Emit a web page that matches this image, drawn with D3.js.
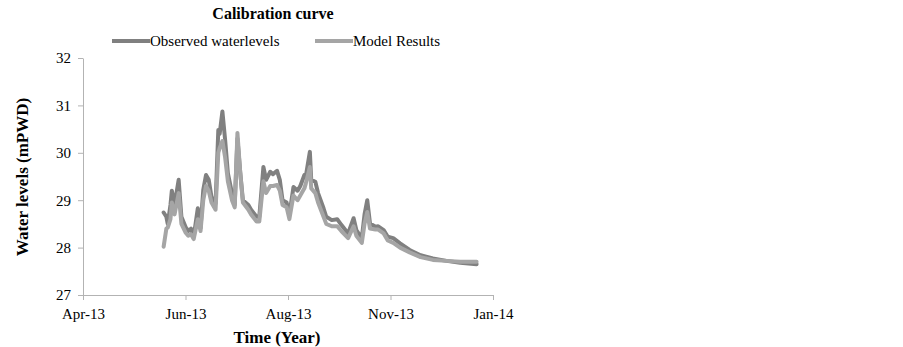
<!DOCTYPE html>
<html lang="en">
<head>
<meta charset="UTF-8">
<title>Calibration curve</title>
<script src="https://d3js.org/d3.v7.min.js"></script>
<style>
  body { margin: 0; background: #fff; }
  svg text { font-family: "Liberation Serif", "Times New Roman", serif; }
  .axis path, .axis line { stroke: #b3b3b3; }
</style>
</head>
<body>
<div id="chart"></div>
<script>
// sample dates
const dates = [
  "2013-05-30","2013-06-01","2013-06-02","2013-06-04","2013-06-05","2013-06-07","2013-06-10","2013-06-12",
  "2013-06-15","2013-06-17","2013-06-19","2013-06-21","2013-06-24","2013-06-26","2013-06-28","2013-06-30",
  "2013-07-02","2013-07-04","2013-07-07","2013-07-09","2013-07-10","2013-07-12","2013-07-14","2013-07-16",
  "2013-07-19","2013-07-21","2013-07-23","2013-07-25","2013-07-27","2013-07-31","2013-08-02","2013-08-06",
  "2013-08-08","2013-08-11","2013-08-13","2013-08-16","2013-08-18","2013-08-21","2013-08-23","2013-08-25",
  "2013-08-28","2013-08-30","2013-09-02","2013-09-05","2013-09-07","2013-09-10","2013-09-11","2013-09-14",
  "2013-09-15","2013-09-18","2013-09-20","2013-09-24","2013-09-26","2013-09-30","2013-10-04","2013-10-07",
  "2013-10-12","2013-10-16","2013-10-18","2013-10-22","2013-10-24","2013-10-26","2013-10-28","2013-11-01",
  "2013-11-03","2013-11-07","2013-11-10","2013-11-14","2013-11-19","2013-11-26","2013-12-04","2013-12-13",
  "2013-12-23","2014-01-02","2014-01-14"
];
const observed = [
  28.74,28.65,28.50,28.90,29.20,28.90,29.43,28.65,
  28.44,28.35,28.40,28.23,28.83,28.41,29.22,29.53,
  29.43,29.07,28.93,30.48,30.40,30.87,30.27,29.57,
  29.15,28.90,30.30,29.60,29.00,28.90,28.80,28.65,
  28.65,29.70,29.43,29.60,29.55,29.62,29.43,29.00,
  28.95,28.69,29.28,29.20,29.30,29.53,29.50,30.02,
  29.43,29.39,29.15,28.83,28.65,28.58,28.60,28.48,
  28.30,28.62,28.37,28.20,28.70,29.00,28.51,28.44,
  28.45,28.37,28.23,28.20,28.09,27.95,27.84,27.77,
  27.72,27.68,27.65
];
const model = [
  28.02,28.40,28.42,28.60,28.95,28.70,29.15,28.50,
  28.32,28.25,28.28,28.18,28.60,28.35,29.00,29.30,
  29.20,28.95,28.80,30.00,30.10,30.25,29.90,29.40,
  29.00,28.85,30.42,29.60,28.95,28.80,28.70,28.55,
  28.55,29.40,29.15,29.30,29.30,29.32,29.20,28.90,
  28.85,28.60,29.10,29.00,29.10,29.25,29.35,29.70,
  29.25,29.15,28.95,28.65,28.50,28.45,28.45,28.35,
  28.20,28.45,28.25,28.10,28.50,28.75,28.40,28.38,
  28.38,28.30,28.15,28.10,28.00,27.90,27.80,27.74,
  27.72,27.70,27.70
];
const yTicks = [27, 28, 29, 30, 31, 32];
// x ticks every 75 days from 1 Apr 2013
const xTicks = ["2013-04-01","2013-06-15","2013-08-29","2013-11-12","2014-01-26"];
const xTickLabels = ["Apr-13","Jun-13","Aug-13","Nov-13","Jan-14"];

const W = 903, H = 347;
const margin = {top: 58, left: 83, right: 410, bottom: 52};
const parse = d3.timeParse("%Y-%m-%d");

const svg = d3.select("#chart").append("svg")
  .attr("width", W).attr("height", H);

const x = d3.scaleTime()
  .domain([parse(xTicks[0]), parse(xTicks[xTicks.length - 1])])
  .range([margin.left, W - margin.right]);

const y = d3.scaleLinear()
  .domain([27, 32])
  .range([H - margin.bottom, margin.top]);

// axes
svg.append("g")
  .attr("class", "axis")
  .attr("transform", `translate(0,${H - margin.bottom})`)
  .call(d3.axisBottom(x)
    .tickValues(xTicks.map(parse))
    .tickSize(5).tickSizeOuter(0)
    .tickFormat((d, i) => xTickLabels[i]))
  .selectAll("text")
  .attr("dy", "1.05em")
  .style("font-family", "'Liberation Serif', serif")
  .style("font-size", "15px")
  .style("fill", "#000");

svg.append("g")
  .attr("class", "axis")
  .attr("transform", `translate(${margin.left},0)`)
  .call(d3.axisLeft(y)
    .tickValues(yTicks)
    .tickSize(5).tickSizeOuter(0)
    .tickFormat(d3.format("d")))
  .selectAll("text")
  .attr("x", -12)
  .style("font-family", "'Liberation Serif', serif")
  .style("font-size", "15px")
  .style("fill", "#000");

// lines
const series = [
  {name: "Observed waterlevels", values: observed, color: "#808080"},
  {name: "Model Results", values: model, color: "#a5a5a5"}
];

const line = d3.line()
  .x(d => x(d.date))
  .y(d => y(d.v));

series.forEach(s => {
  svg.append("path")
    .datum(dates.map((d, i) => ({date: parse(d), v: s.values[i]})))
    .attr("fill", "none")
    .attr("stroke", s.color)
    .attr("stroke-width", 4)
    .attr("stroke-linejoin", "round")
    .attr("stroke-linecap", "round")
    .attr("d", line);
});

// title
svg.append("text")
  .attr("x", 273).attr("y", 19)
  .attr("text-anchor", "middle")
  .style("font-size", "16px").style("font-weight", "bold")
  .text("Calibration curve");

// legend
const legendX = [112, 315];
series.forEach((s, i) => {
  const g = svg.append("g").attr("transform", `translate(${legendX[i]},41)`);
  g.append("line")
    .attr("x1", 0).attr("x2", 38)
    .attr("stroke", s.color).attr("stroke-width", 4);
  g.append("text")
    .attr("x", 38).attr("y", 5)
    .style("font-size", "15px")
    .text(s.name);
});

// axis titles
svg.append("text")
  .attr("x", 277).attr("y", 343)
  .attr("text-anchor", "middle")
  .style("font-size", "17px").style("font-weight", "bold")
  .text("Time (Year)");

svg.append("text")
  .attr("transform", "translate(28,177) rotate(-90)")
  .attr("text-anchor", "middle")
  .style("font-size", "17px").style("font-weight", "bold")
  .text("Water levels (mPWD)");
</script>
</body>
</html>
